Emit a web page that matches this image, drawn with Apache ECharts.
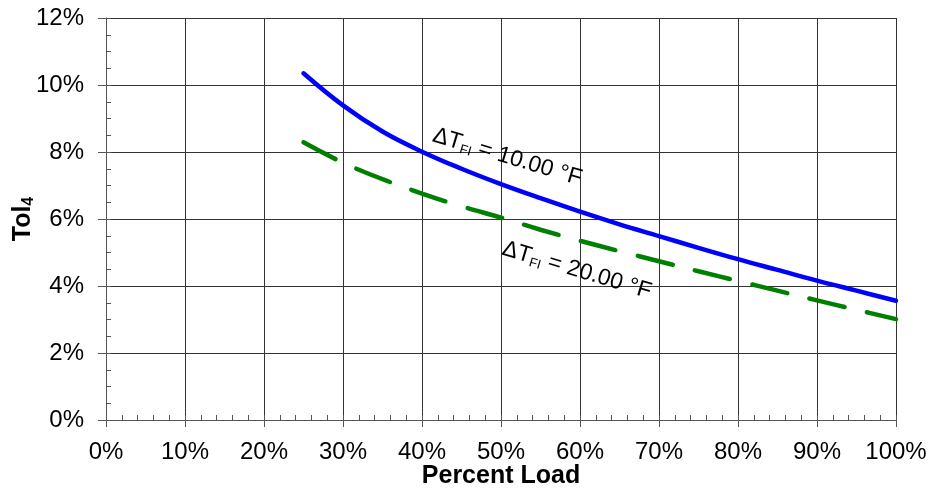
<!DOCTYPE html>
<html>
<head>
<meta charset="utf-8">
<script src="https://cdn.jsdelivr.net/npm/echarts@6/dist/echarts.min.js"></script>
<style>
  html, body { margin: 0; padding: 0; background: #fff; }
  #chart { width: 933px; height: 490px; }
</style>
</head>
<body>
<div id="chart"></div>
<script>
// percent load (x) and tolerance values (%)
const loadPct = [25, 30, 35, 40, 45, 50, 55, 60, 65, 70, 75, 80, 85, 90, 95, 100];
const tolDT10 = [10.35, 9.39, 8.61, 8.01, 7.50, 7.04, 6.62, 6.22, 5.84, 5.49, 5.14, 4.80, 4.48, 4.16, 3.86, 3.56];
const tolDT20 = [8.29, 7.68, 7.19, 6.76, 6.38, 6.04, 5.68, 5.35, 5.04, 4.74, 4.44, 4.15, 3.86, 3.57, 3.29, 3.01];
// curve labels: value text and anchor in data coords
const curveLabels = [
    { val: '10.00', at: [50.8, 7.85] },
    { val: '20.00', at: [59.6, 4.47] }
];

const pairs = (ys) => loadPct.map((x, i) => [x, ys[i]]);
const gridCol = '#333';
const labelFont = 'Liberation Sans, Arial, sans-serif';

let chart = echarts.init(document.getElementById('chart'));

const option = {
    animation: false,
    grid: { left: 106, right: 37, top: 18, bottom: 70, outerBoundsMode: 'none' },
    xAxis: [
        {
            type: 'value', position: 'bottom', min: 0, max: 100, interval: 10,
            name: 'Percent Load', nameLocation: 'middle', nameGap: 44, nameMoveOverlap: false,
            nameTextStyle: { fontFamily: labelFont, fontSize: 25, fontWeight: 'bold', color: '#000' },
            axisLine: { lineStyle: { color: '#555', width: 1 } },
            axisTick: { show: true, inside: false, length: 7, lineStyle: { color: '#555' } },
            axisLabel: { formatter: '{value}%', fontFamily: labelFont, fontSize: 24, color: '#000', margin: 20 },
            splitLine: { show: true, lineStyle: { color: gridCol, width: 1 } }
        },
        {
            // minor ticks, drawn inward
            type: 'value', position: 'bottom', min: 0, max: 100, interval: 2,
            axisLine: { show: false },
            axisTick: { show: true, inside: true, length: 5, lineStyle: { color: '#555' } },
            axisLabel: { show: false },
            splitLine: { show: false }
        }
    ],
    yAxis: [
        {
            type: 'value', position: 'left', min: 0, max: 12, interval: 2,
            name: '{b|Tol}{s|4}', nameLocation: 'middle', nameGap: 69, nameMoveOverlap: false,
            nameTextStyle: {
                rich: {
                    b: { fontFamily: labelFont, fontSize: 25, fontWeight: 'bold', color: '#000' },
                    s: { fontFamily: labelFont, fontSize: 16, fontWeight: 'bold', color: '#000', verticalAlign: 'bottom', padding: [12, 0, 0, 0] }
                }
            },
            axisLine: { show: true, lineStyle: { color: '#555', width: 1 } },
            axisTick: { show: true, inside: false, length: 8, lineStyle: { color: '#555' } },
            axisLabel: { formatter: '{value}%', fontFamily: labelFont, fontSize: 24, color: '#000', margin: 22 },
            splitLine: { show: true, lineStyle: { color: gridCol, width: 1 } }
        },
        {
            type: 'value', position: 'left', min: 0, max: 12, interval: 0.5,
            axisLine: { show: false },
            axisTick: { show: true, inside: true, length: 5, lineStyle: { color: '#555' } },
            axisLabel: { show: false },
            splitLine: { show: false }
        }
    ],
    series: [
        {
            name: 'dT10', type: 'line', xAxisIndex: 0, yAxisIndex: 0,
            data: pairs(tolDT10), smooth: 0.4, showSymbol: false,
            lineStyle: { color: '#0000ff', width: 4.5, cap: 'round' }
        },
        {
            name: 'dT20', type: 'line', xAxisIndex: 0, yAxisIndex: 0,
            data: pairs(tolDT20), smooth: 0.4, showSymbol: false,
            lineStyle: { color: '#008000', width: 4.5, type: [36, 23], cap: 'round' }
        }
    ]
};
chart.setOption(option);

// put the rotated curve labels at their data anchors
const graphics = curveLabels.map((lb) => {
    const p = chart.convertToPixel({ gridIndex: 0 }, lb.at);
    return {
        type: 'text', x: p[0], y: p[1], rotation: -0.29, z: 10,
        style: {
            text: '{a|ΔT}{s|FI}{a| = ' + lb.val + ' °F}',
            align: 'center', verticalAlign: 'middle',
            rich: {
                a: { fontFamily: labelFont, fontSize: 23, fill: '#000' },
                s: { fontFamily: labelFont, fontSize: 13, fill: '#000', padding: [12, 0, 0, 0] }
            }
        }
    };
});
chart.setOption({ graphic: graphics });
</script>
</body>
</html>
